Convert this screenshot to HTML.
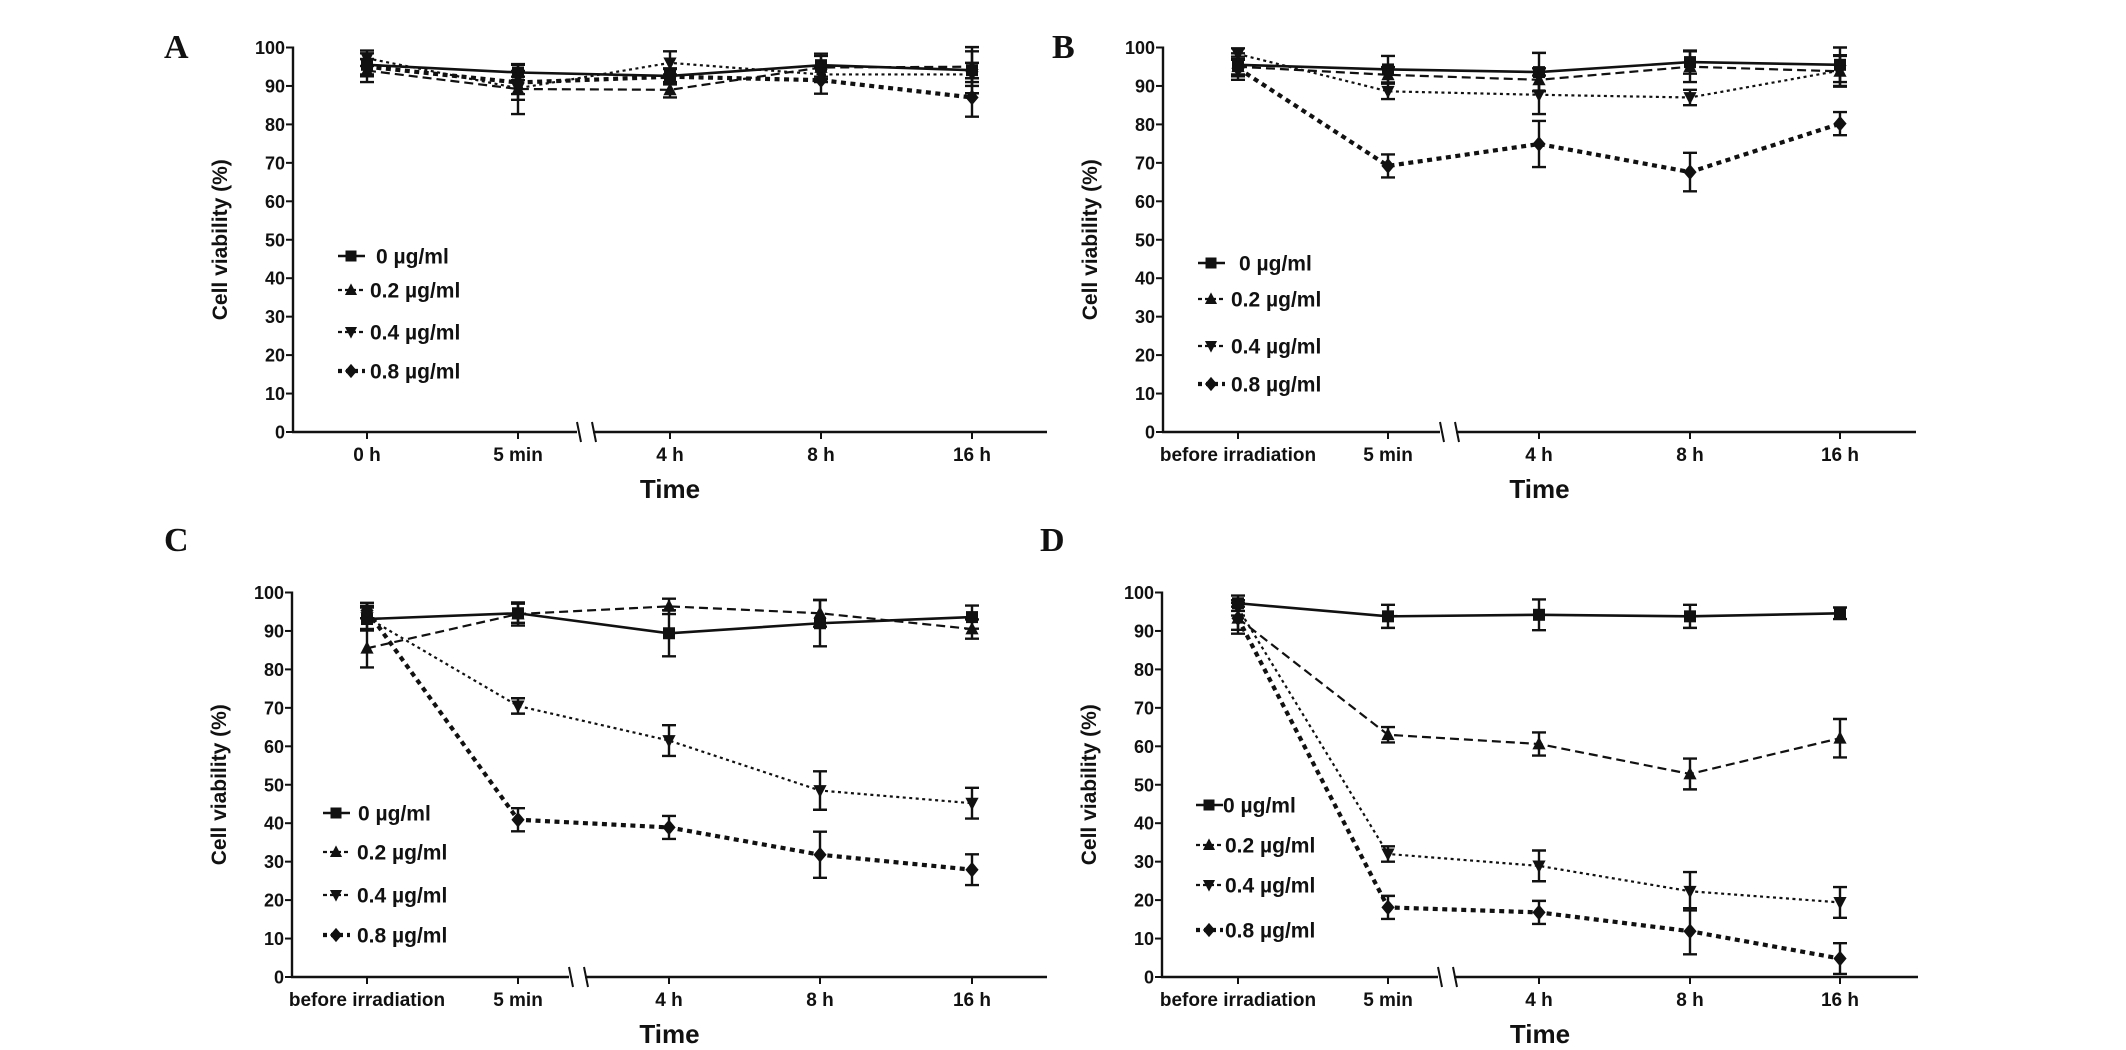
<!DOCTYPE html>
<html><head><meta charset="utf-8"><style>
html,body{margin:0;padding:0;background:#fff;}
svg{display:block;}
text{font-family:"Liberation Sans",Arial,sans-serif;font-weight:bold;fill:#111;}
</style></head>
<body>
<svg id="fig" width="2126" height="1050" viewBox="0 0 2126 1050" xmlns="http://www.w3.org/2000/svg"></svg>
<script>
// ---- data ----
const seriesNames = ["0 µg/ml", "0.2 µg/ml", "0.4 µg/ml", "0.8 µg/ml"];
const catsA = ["0 h", "5 min", "4 h", "8 h", "16 h"];
const catsBCD = ["before irradiation", "5 min", "4 h", "8 h", "16 h"];
const yTicks = [0, 10, 20, 30, 40, 50, 60, 70, 80, 90, 100];

const aS0 = [95.5, 93.5, 92.6, 95.4, 94.1];
const aS1 = [94.0, 89.2, 89.0, 94.8, 95.0];
const aS2 = [97.2, 89.4, 96.0, 93.0, 93.0];
const aS3 = [95.0, 90.9, 92.4, 91.5, 87.0];
const aE0 = [3, 2, 2, 3, 6];
const aE1 = [3, 6.5, 2, 3, 4];
const aE2 = [2, 3, 3, 2, 3];
const aE3 = [2, 3, 2, 3.5, 5];

const bS0 = [95.5, 94.3, 93.6, 96.2, 95.5];
const bS1 = [95.0, 92.9, 91.6, 95.0, 93.8];
const bS2 = [98.3, 88.6, 87.7, 87.0, 94.0];
const bS3 = [94.6, 69.2, 74.9, 67.6, 80.2];
const bE0 = [3, 3.5, 5, 3, 4.5];
const bE1 = [2, 2, 3, 4, 4];
const bE2 = [1.5, 2, 5, 2, 4];
const bE3 = [3, 3, 6, 5, 3];

const cS0 = [93.1, 94.6, 89.4, 92.0, 93.6];
const cS1 = [85.5, 94.4, 96.4, 94.6, 90.5];
const cS2 = [93.5, 70.5, 61.5, 48.5, 45.2];
const cS3 = [95.3, 40.9, 38.9, 31.8, 27.9];
const cE0 = [3, 2.5, 6, 6, 3];
const cE1 = [5, 3, 2, 3.5, 2.5];
const cE2 = [3, 2, 4, 5, 4];
const cE3 = [2, 3, 3, 6, 4];

const dS0 = [97.2, 93.8, 94.2, 93.8, 94.6];
const dS1 = [93.3, 63.0, 60.6, 52.8, 62.1];
const dS2 = [96.0, 32.0, 28.9, 22.3, 19.4];
const dS3 = [93.3, 18.1, 16.8, 11.9, 4.8];
const dE0 = [2, 3, 4, 3, 1.5];
const dE1 = [4, 2, 3, 4, 5];
const dE2 = [2, 2, 4, 5, 4];
const dE3 = [3, 3, 3, 6, 4];

// ---- drawing ----
const NS = "http://www.w3.org/2000/svg";
const svg = document.getElementById("fig");
function mk(tag, attrs, parent) {
  const e = document.createElementNS(NS, tag);
  for (const k in attrs) e.setAttribute(k, attrs[k]);
  (parent || svg).appendChild(e);
  return e;
}
const styles = [
  {w: 2.6, dash: ""},
  {w: 2.2, dash: "9 5"},
  {w: 2.2, dash: "3 3.5"},
  {w: 4.2, dash: "5 4.5"}
];
function marker(g, i, x, y, s) {
  let m;
  if (i === 0) m = mk("rect", {x: x - s, y: y - s, width: 2 * s, height: 2 * s, fill: "#111"}, g);
  else if (i === 1) m = mk("polygon", {points: `${x},${y - s * 1.2} ${x - s * 1.1},${y + s * 0.9} ${x + s * 1.1},${y + s * 0.9}`, fill: "#111"}, g);
  else if (i === 2) m = mk("polygon", {points: `${x},${y + s * 1.2} ${x - s * 1.1},${y - s * 0.9} ${x + s * 1.1},${y - s * 0.9}`, fill: "#111"}, g);
  else m = mk("polygon", {points: `${x},${y - s * 1.3} ${x + s * 1.1},${y} ${x},${y + s * 1.3} ${x - s * 1.1},${y}`, fill: "#111"}, g);
  return m;
}

function panel(p) {
  const g = mk("g", {});
  
  
  const yS = v => p.y0 - (p.y0 - p.y100) * v / 100;
  const xS = i => p.xs[i];

  const lt = mk("text", {x: p.lx, y: p.ly, "font-size": 34, style: "font-family:'Liberation Serif',serif;font-weight:bold"}, g);
  lt.textContent = p.id;
  
  

  // y axis
  const ya = mk("g", {}, g);
  
  
  mk("line", {x1: p.ax, y1: p.y100 - 1, x2: p.ax, y2: p.y0 + 1, stroke: "#111", "stroke-width": 2.4}, ya);
  yTicks.forEach(t => {
    mk("line", {x1: p.ax - 7, y1: yS(t), x2: p.ax, y2: yS(t), stroke: "#111", "stroke-width": 2}, ya);
    const tx = mk("text", {x: p.ax - 8, y: yS(t) + 6.5, "font-size": 18, "text-anchor": "end"}, ya);
    tx.textContent = t;
    
    
  });
  const yt = mk("text", {x: 0, y: 0, "font-size": 21, "text-anchor": "middle", transform: `translate(${p.ax - 66},${(p.y0 + p.y100) / 2}) rotate(-90)`}, g);
  yt.textContent = "Cell viability (%)";
  
  

  // x axis
  const xa = mk("g", {}, g);
  
  
  mk("line", {x1: p.ax - 1, y1: p.y0, x2: p.bx - 3, y2: p.y0, stroke: "#111", "stroke-width": 2.4}, xa);
  mk("line", {x1: p.bx + 13, y1: p.y0, x2: p.xend, y2: p.y0, stroke: "#111", "stroke-width": 2.4}, xa);
  mk("line", {x1: p.bx - 3, y1: p.y0 - 10, x2: p.bx + 1, y2: p.y0 + 10, stroke: "#111", "stroke-width": 2}, xa);
  mk("line", {x1: p.bx + 12, y1: p.y0 - 10, x2: p.bx + 16, y2: p.y0 + 10, stroke: "#111", "stroke-width": 2}, xa);
  p.cats.forEach((c, i) => {
    mk("line", {x1: xS(i), y1: p.y0, x2: xS(i), y2: p.y0 + 7, stroke: "#111", "stroke-width": 2}, xa);
    const tx = mk("text", {x: xS(i), y: p.y0 + 29, "font-size": 19, "text-anchor": "middle"}, xa);
    tx.textContent = c;
    
    
  });
  const xt = mk("text", {x: (p.ax + p.xend) / 2, y: p.y0 + 66, "font-size": 26, "text-anchor": "middle"}, g);
  xt.textContent = "Time";
  
  

  // series
  p.series.forEach((vals, si) => {
    const sg = mk("g", {}, g);
    
    
    const pts = vals.map((v, i) => `${xS(i)},${yS(v)}`).join(" ");
    mk("polyline", {points: pts, fill: "none", stroke: "#111", "stroke-width": styles[si].w, "stroke-dasharray": styles[si].dash}, sg);
    vals.forEach((v, i) => {
      const e = p.errs[si][i];
      const x = xS(i);
      const eb = mk("path", {d: `M${x},${yS(v - e)}V${yS(v + e)}M${x - 7},${yS(v + e)}H${x + 7}M${x - 7},${yS(v - e)}H${x + 7}`, stroke: "#111", "stroke-width": 2.4, fill: "none"}, sg);
      
      
      const m = marker(sg, si, x, yS(v), 6);
      
      
    });
  });

  // legend
  const lg = mk("g", {}, g);
  
  
  seriesNames.forEach((n, i) => {
    const ey = p.legY[i];
    const eg = mk("g", {}, lg);
    
    
    mk("line", {x1: p.legX - 13, y1: ey, x2: p.legX + 14, y2: ey, stroke: "#111", "stroke-width": styles[i].w, "stroke-dasharray": i === 0 ? "" : (i === 3 ? "4 4" : "4 3")}, eg);
    marker(eg, i, p.legX, ey, 5.5);
    const tx = mk("text", {x: p.legX + (i === 0 ? p.legT0 : p.legT), y: ey + 7.5, "font-size": 21}, eg);
    tx.textContent = n;
  });
}

panel({id: "A", lx: 164, ly: 58, ax: 293, y0: 432, y100: 47.5, xs: [367, 518, 670, 821, 972], xend: 1047, bx: 580,
  cats: catsA, series: [aS0, aS1, aS2, aS3], errs: [aE0, aE1, aE2, aE3],
  legX: 351, legY: [256, 290, 332, 371], legT0: 25, legT: 19});
panel({id: "B", lx: 1052, ly: 58, ax: 1163, y0: 432, y100: 47.5, xs: [1238, 1388, 1539, 1690, 1840], xend: 1916, bx: 1443,
  cats: catsBCD, series: [bS0, bS1, bS2, bS3], errs: [bE0, bE1, bE2, bE3],
  legX: 1211, legY: [263, 299, 346, 384], legT0: 28, legT: 20});
panel({id: "C", lx: 164, ly: 551, ax: 292, y0: 977, y100: 592.5, xs: [367, 518, 669, 820, 972], xend: 1047, bx: 572,
  cats: catsBCD, series: [cS0, cS1, cS2, cS3], errs: [cE0, cE1, cE2, cE3],
  legX: 336, legY: [813, 852, 895, 935], legT0: 22, legT: 21});
panel({id: "D", lx: 1040, ly: 551, ax: 1162, y0: 977, y100: 592.5, xs: [1238, 1388, 1539, 1690, 1840], xend: 1918, bx: 1441,
  cats: catsBCD, series: [dS0, dS1, dS2, dS3], errs: [dE0, dE1, dE2, dE3],
  legX: 1209, legY: [805, 845, 885, 930], legT0: 14, legT: 16});
</script>
</body></html>
